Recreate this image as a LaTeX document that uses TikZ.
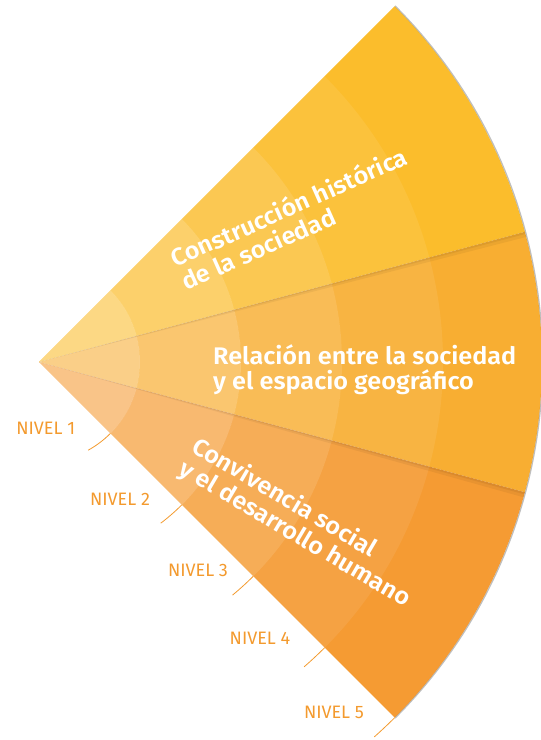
\documentclass[tikz,border=0pt]{standalone}
\usepackage{fontspec}
\setmainfont{Fira Sans}[BoldFont={Fira Sans SemiBold}, BoldFeatures={FakeStretch=1.05}]

\definecolor{ejeA}{HTML}{FBBD2C}
\definecolor{ejeB}{HTML}{F8AE32}
\definecolor{ejeC}{HTML}{F59B33}
\definecolor{nivel}{HTML}{F39A2E}

\tikzset{
  eje/.style={text=white, font=\bfseries\fontsize{24}{25.5}\selectfont, align=left, inner sep=0pt},
  nivel/.style={text=nivel, font=\fontsize{18}{20}\selectfont, inner sep=0pt},
  marca/.style={draw=nivel, line width=0.8pt},
}

\begin{document}
\begin{tikzpicture}[x=1pt,y=1pt]
\useasboundingbox (0,0) rectangle (541,740);
\coordinate (o) at (39,378);

\foreach \c/\a/\b in {ejeA/15/45, ejeB/-15/15, ejeC/-45/-15}
  \fill[\c] (o) -- ++(\a:503) arc[start angle=\a, end angle=\b, radius=503] -- cycle;

% anillos de nivel
\foreach \ri/\re/\op in {0.01/101/0.42, 101/202/0.30, 202/303/0.18, 303/404/0.08}
  \fill[white, opacity=\op, shift={(o)}] (-45:\ri) arc[start angle=-45, end angle=45, radius=\ri]
    -- (45:\re) arc[start angle=45, end angle=-45, radius=\re] -- cycle;

% sombras
\foreach \a in {15,-15} {
  \fill[black, opacity=0.05, shift={(o)}] (0,0) -- (\a:503) arc[start angle=\a, delta angle=-0.6, radius=503] -- cycle;
  \fill[black, opacity=0.06, shift={(o)}] (0,0) -- (\a:503) arc[start angle=\a, delta angle=-0.25, radius=503] -- cycle;
}
\draw[black, opacity=0.25, line width=1.2pt] (o) ++(-45:503.6) arc[start angle=-45, end angle=45, radius=503.6];

\node[eje, rotate=24, anchor=base west] (historia) at (186,449) {Construcción histórica\\de la sociedad};
\node[eje, anchor=base west] (espacio) at (213,350) {Relación entre la sociedad\\y el espacio geográfico};
\node[eje, rotate=-30.5, anchor=base west] (convivencia) at (177,267) {Convivencia social\\y el desarrollo humano};

\foreach \k/\r in {1/101, 2/202, 3/303, 4/404, 5/503} {
  \pgfmathsetmacro\d{28/\r*57.2958}
  \draw[marca] (o) ++(-45:\r) coordinate (t\k) arc[start angle=-45, delta angle=-\d, radius=\r];
}

\foreach \k/\x/\y in {1/45.7/311.3, 2/120/241, 3/198/170, 4/260/102, 5/334/28}
  \node[nivel] (n\k) at (\x,\y) {NIVEL \k};
\end{tikzpicture}
\end{document}
